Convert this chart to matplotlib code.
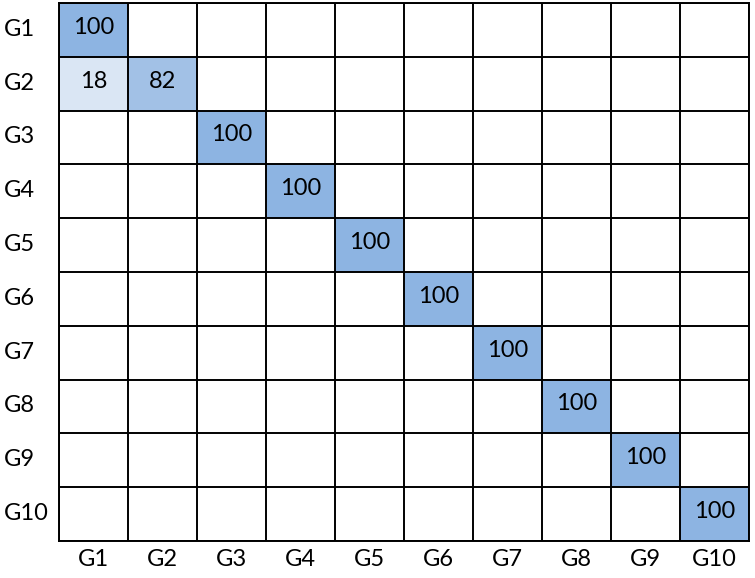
import matplotlib.pyplot as plt
from matplotlib.colors import LinearSegmentedColormap
import numpy as np

plt.rcParams['font.family'] = ['Lato', 'DejaVu Sans']

groups = ['G1', 'G2', 'G3', 'G4', 'G5', 'G6', 'G7', 'G8', 'G9', 'G10']

# percentage of each row group (true) assigned to each column group (predicted)
matrix = np.array([
    [100, 0, 0, 0, 0, 0, 0, 0, 0, 0],
    [18, 82, 0, 0, 0, 0, 0, 0, 0, 0],
    [0, 0, 100, 0, 0, 0, 0, 0, 0, 0],
    [0, 0, 0, 100, 0, 0, 0, 0, 0, 0],
    [0, 0, 0, 0, 100, 0, 0, 0, 0, 0],
    [0, 0, 0, 0, 0, 100, 0, 0, 0, 0],
    [0, 0, 0, 0, 0, 0, 100, 0, 0, 0],
    [0, 0, 0, 0, 0, 0, 0, 100, 0, 0],
    [0, 0, 0, 0, 0, 0, 0, 0, 100, 0],
    [0, 0, 0, 0, 0, 0, 0, 0, 0, 100],
])

cmap = LinearSegmentedColormap.from_list(
    'excel_blue', [(0, '#e6eef8'), (0.5, '#c6d8ee'), (1, '#8db4e2')])

fig = plt.figure(figsize=(7.55, 5.78), dpi=100)
ax = fig.add_axes([59 / 755, 37 / 578, 690 / 755, 538 / 578])

n = len(groups)
shown = np.ma.masked_where(matrix == 0, matrix)
ax.pcolormesh(np.arange(n + 1), np.arange(n + 1), shown, cmap=cmap,
              vmin=0, vmax=100)

for k in range(n + 1):
    ax.axhline(k, color='black', lw=1.4)
    ax.axvline(k, color='black', lw=1.4)

for i in range(n):
    for j in range(n):
        if matrix[i, j] > 0:
            ax.text(j + 0.5, i + 0.45, str(matrix[i, j]), ha='center',
                    va='center', fontsize=17, color='black')

ax.set_xlim(0, n)
ax.set_ylim(n, 0)
ax.set_xticks(np.arange(n) + 0.5)
ax.set_xticklabels(groups, fontsize=17)
ax.set_yticks(np.arange(n) + 0.45)
ax.set_yticklabels(groups, fontsize=17)
ax.tick_params(length=0)
ax.tick_params(axis='x', pad=6)
for ticklabel in ax.get_yticklabels():
    ticklabel.set_horizontalalignment('left')
ax.tick_params(axis='y', pad=40)
for s in ax.spines.values():
    s.set_linewidth(1.4)

fig.savefig('out.png', dpi=100)
